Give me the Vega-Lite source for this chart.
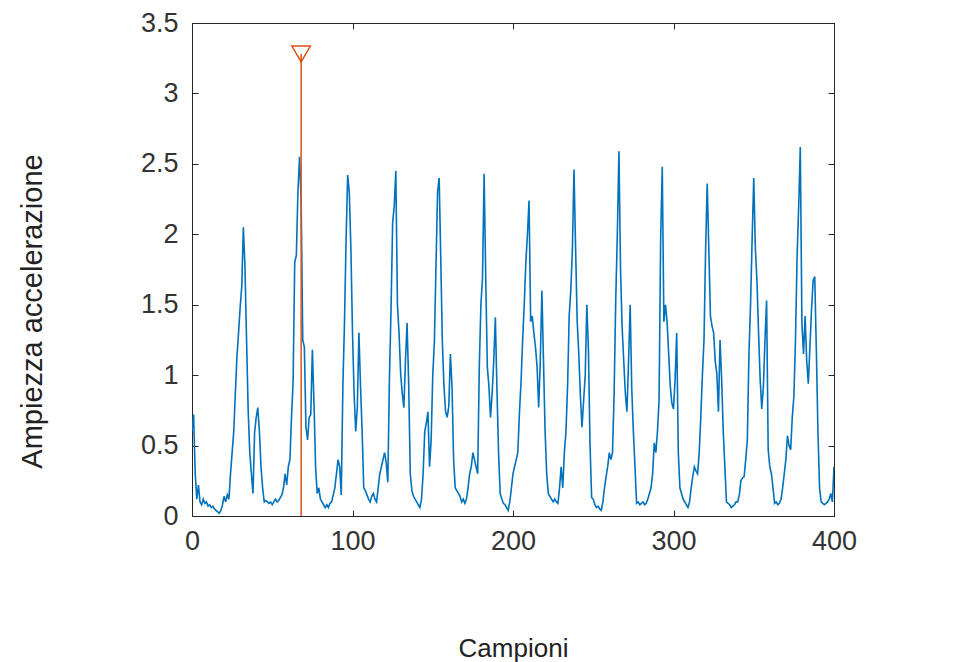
{
  "$schema": "https://vega.github.io/schema/vega-lite/v6.json",
  "autosize": {"type": "none"},
  "padding": {"left": 192, "top": 23, "right": 128, "bottom": 146},
  "width": 642,
  "height": 493,
  "background": "white",
  "view": {"stroke": "#262626", "strokeWidth": 1},
  "config": {
    "font": "Liberation Sans",
    "axis": {"grid": false, "domainColor": "#262626", "tickColor": "#262626", "labelColor": "#333333", "titleColor": "#222222", "titleFontWeight": "normal", "labelFont": "Liberation Sans", "titleFont": "Liberation Sans"}
  },
  "datasets": {
    "signal": [
      {"s":0,"v":0.6},{"s":1,"v":0.72},{"s":2,"v":0.3},{"s":3,"v":0.12},{"s":4,"v":0.22},{"s":5,"v":0.1},{"s":6,"v":0.08},{"s":7,"v":0.12},{"s":8,"v":0.09},{"s":9,"v":0.1},
      {"s":10,"v":0.07},{"s":11,"v":0.08},{"s":12,"v":0.06},{"s":13,"v":0.07},{"s":14,"v":0.05},{"s":15,"v":0.04},{"s":16,"v":0.03},{"s":17,"v":0.02},{"s":18,"v":0.04},{"s":19,"v":0.08},
      {"s":20,"v":0.14},{"s":21,"v":0.1},{"s":22,"v":0.15},{"s":23,"v":0.12},{"s":24,"v":0.3},{"s":25,"v":0.45},{"s":26,"v":0.6},{"s":27,"v":0.87},{"s":28,"v":1.13},{"s":29,"v":1.3},
      {"s":30,"v":1.48},{"s":31,"v":1.63},{"s":32,"v":2.05},{"s":33,"v":1.77},{"s":34,"v":1.25},{"s":35,"v":0.75},{"s":36,"v":0.45},{"s":37,"v":0.3},{"s":38,"v":0.16},{"s":39,"v":0.59},
      {"s":40,"v":0.7},{"s":41,"v":0.77},{"s":42,"v":0.6},{"s":43,"v":0.35},{"s":44,"v":0.2},{"s":45,"v":0.1},{"s":46,"v":0.11},{"s":47,"v":0.1},{"s":48,"v":0.09},{"s":49,"v":0.1},
      {"s":50,"v":0.08},{"s":51,"v":0.1},{"s":52,"v":0.12},{"s":53,"v":0.1},{"s":54,"v":0.11},{"s":55,"v":0.13},{"s":56,"v":0.15},{"s":57,"v":0.2},{"s":58,"v":0.3},{"s":59,"v":0.22},
      {"s":60,"v":0.35},{"s":61,"v":0.4},{"s":62,"v":0.7},{"s":63,"v":0.96},{"s":64,"v":1.8},{"s":65,"v":1.85},{"s":66,"v":2.3},{"s":67,"v":2.55},{"s":68,"v":2.25},{"s":69,"v":1.25},
      {"s":70,"v":1.2},{"s":71,"v":0.63},{"s":72,"v":0.54},{"s":73,"v":0.7},{"s":74,"v":0.72},{"s":75,"v":1.18},{"s":76,"v":0.8},{"s":77,"v":0.35},{"s":78,"v":0.16},{"s":79,"v":0.2},
      {"s":80,"v":0.12},{"s":81,"v":0.1},{"s":82,"v":0.08},{"s":83,"v":0.06},{"s":84,"v":0.08},{"s":85,"v":0.06},{"s":86,"v":0.09},{"s":87,"v":0.1},{"s":88,"v":0.15},{"s":89,"v":0.2},
      {"s":90,"v":0.3},{"s":91,"v":0.4},{"s":92,"v":0.35},{"s":93,"v":0.15},{"s":94,"v":0.92},{"s":95,"v":1.37},{"s":96,"v":1.96},{"s":97,"v":2.42},{"s":98,"v":2.3},{"s":99,"v":1.9},
      {"s":100,"v":1.3},{"s":101,"v":0.87},{"s":102,"v":0.6},{"s":103,"v":0.77},{"s":104,"v":1.3},{"s":105,"v":0.92},{"s":106,"v":0.6},{"s":107,"v":0.2},{"s":108,"v":0.18},{"s":109,"v":0.15},
      {"s":110,"v":0.12},{"s":111,"v":0.1},{"s":112,"v":0.14},{"s":113,"v":0.16},{"s":114,"v":0.12},{"s":115,"v":0.1},{"s":116,"v":0.2},{"s":117,"v":0.3},{"s":118,"v":0.35},{"s":119,"v":0.4},
      {"s":120,"v":0.45},{"s":121,"v":0.38},{"s":122,"v":0.24},{"s":123,"v":0.97},{"s":124,"v":1.46},{"s":125,"v":2.08},{"s":126,"v":2.2},{"s":127,"v":2.45},{"s":128,"v":1.5},{"s":129,"v":1.3},
      {"s":130,"v":1.01},{"s":131,"v":0.87},{"s":132,"v":0.77},{"s":133,"v":1.1},{"s":134,"v":1.37},{"s":135,"v":0.94},{"s":136,"v":0.3},{"s":137,"v":0.18},{"s":138,"v":0.14},{"s":139,"v":0.12},
      {"s":140,"v":0.1},{"s":141,"v":0.08},{"s":142,"v":0.06},{"s":143,"v":0.12},{"s":144,"v":0.3},{"s":145,"v":0.6},{"s":146,"v":0.66},{"s":147,"v":0.74},{"s":148,"v":0.35},{"s":149,"v":0.54},
      {"s":150,"v":1.0},{"s":151,"v":1.23},{"s":152,"v":1.76},{"s":153,"v":2.3},{"s":154,"v":2.4},{"s":155,"v":1.82},{"s":156,"v":1.23},{"s":157,"v":0.92},{"s":158,"v":0.74},{"s":159,"v":0.7},
      {"s":160,"v":0.78},{"s":161,"v":1.15},{"s":162,"v":0.92},{"s":163,"v":0.4},{"s":164,"v":0.2},{"s":165,"v":0.18},{"s":166,"v":0.16},{"s":167,"v":0.14},{"s":168,"v":0.1},{"s":169,"v":0.12},
      {"s":170,"v":0.09},{"s":171,"v":0.12},{"s":172,"v":0.2},{"s":173,"v":0.3},{"s":174,"v":0.35},{"s":175,"v":0.45},{"s":176,"v":0.4},{"s":177,"v":0.35},{"s":178,"v":0.3},{"s":179,"v":1.06},
      {"s":180,"v":1.5},{"s":181,"v":1.69},{"s":182,"v":2.43},{"s":183,"v":1.7},{"s":184,"v":1.06},{"s":185,"v":0.92},{"s":186,"v":0.7},{"s":187,"v":0.87},{"s":188,"v":1.1},{"s":189,"v":1.41},
      {"s":190,"v":0.9},{"s":191,"v":0.45},{"s":192,"v":0.16},{"s":193,"v":0.12},{"s":194,"v":0.09},{"s":195,"v":0.08},{"s":196,"v":0.06},{"s":197,"v":0.04},{"s":198,"v":0.1},{"s":199,"v":0.2},
      {"s":200,"v":0.3},{"s":201,"v":0.35},{"s":202,"v":0.4},{"s":203,"v":0.45},{"s":204,"v":0.73},{"s":205,"v":0.95},{"s":206,"v":1.25},{"s":207,"v":1.5},{"s":208,"v":1.8},{"s":209,"v":2.0},
      {"s":210,"v":2.24},{"s":211,"v":1.38},{"s":212,"v":1.42},{"s":213,"v":1.3},{"s":214,"v":1.2},{"s":215,"v":1.06},{"s":216,"v":0.77},{"s":217,"v":1.1},{"s":218,"v":1.6},{"s":219,"v":1.1},
      {"s":220,"v":0.6},{"s":221,"v":0.3},{"s":222,"v":0.16},{"s":223,"v":0.14},{"s":224,"v":0.12},{"s":225,"v":0.1},{"s":226,"v":0.12},{"s":227,"v":0.1},{"s":228,"v":0.09},{"s":229,"v":0.2},
      {"s":230,"v":0.35},{"s":231,"v":0.2},{"s":232,"v":0.45},{"s":233,"v":0.6},{"s":234,"v":0.92},{"s":235,"v":1.42},{"s":236,"v":1.6},{"s":237,"v":1.89},{"s":238,"v":2.46},{"s":239,"v":1.9},
      {"s":240,"v":1.38},{"s":241,"v":1.15},{"s":242,"v":0.85},{"s":243,"v":0.63},{"s":244,"v":0.82},{"s":245,"v":1.0},{"s":246,"v":1.5},{"s":247,"v":1.18},{"s":248,"v":0.5},{"s":249,"v":0.13},
      {"s":250,"v":0.12},{"s":251,"v":0.08},{"s":252,"v":0.06},{"s":253,"v":0.07},{"s":254,"v":0.05},{"s":255,"v":0.04},{"s":256,"v":0.1},{"s":257,"v":0.2},{"s":258,"v":0.28},{"s":259,"v":0.35},
      {"s":260,"v":0.45},{"s":261,"v":0.4},{"s":262,"v":0.45},{"s":263,"v":0.87},{"s":264,"v":1.53},{"s":265,"v":2.0},{"s":266,"v":2.59},{"s":267,"v":1.75},{"s":268,"v":1.34},{"s":269,"v":1.1},
      {"s":270,"v":0.87},{"s":271,"v":0.74},{"s":272,"v":1.1},{"s":273,"v":1.5},{"s":274,"v":0.9},{"s":275,"v":0.6},{"s":276,"v":0.35},{"s":277,"v":0.09},{"s":278,"v":0.1},{"s":279,"v":0.08},
      {"s":280,"v":0.09},{"s":281,"v":0.1},{"s":282,"v":0.08},{"s":283,"v":0.09},{"s":284,"v":0.12},{"s":285,"v":0.16},{"s":286,"v":0.2},{"s":287,"v":0.3},{"s":288,"v":0.52},{"s":289,"v":0.45},
      {"s":290,"v":0.6},{"s":291,"v":0.82},{"s":292,"v":1.97},{"s":293,"v":2.48},{"s":294,"v":1.38},{"s":295,"v":1.5},{"s":296,"v":1.38},{"s":297,"v":1.15},{"s":298,"v":0.92},{"s":299,"v":0.8},
      {"s":300,"v":0.76},{"s":301,"v":0.97},{"s":302,"v":1.3},{"s":303,"v":0.45},{"s":304,"v":0.2},{"s":305,"v":0.16},{"s":306,"v":0.12},{"s":307,"v":0.1},{"s":308,"v":0.08},{"s":309,"v":0.06},
      {"s":310,"v":0.1},{"s":311,"v":0.2},{"s":312,"v":0.28},{"s":313,"v":0.35},{"s":314,"v":0.32},{"s":315,"v":0.3},{"s":316,"v":0.45},{"s":317,"v":0.7},{"s":318,"v":1.0},{"s":319,"v":1.25},
      {"s":320,"v":1.89},{"s":321,"v":2.36},{"s":322,"v":1.9},{"s":323,"v":1.42},{"s":324,"v":1.35},{"s":325,"v":1.3},{"s":326,"v":1.1},{"s":327,"v":1.01},{"s":328,"v":0.74},{"s":329,"v":1.25},
      {"s":330,"v":0.97},{"s":331,"v":0.6},{"s":332,"v":0.35},{"s":333,"v":0.1},{"s":334,"v":0.09},{"s":335,"v":0.08},{"s":336,"v":0.06},{"s":337,"v":0.07},{"s":338,"v":0.08},{"s":339,"v":0.1},
      {"s":340,"v":0.1},{"s":341,"v":0.15},{"s":342,"v":0.25},{"s":343,"v":0.27},{"s":344,"v":0.28},{"s":345,"v":0.4},{"s":346,"v":0.54},{"s":347,"v":1.15},{"s":348,"v":1.5},{"s":349,"v":1.97},
      {"s":350,"v":2.4},{"s":351,"v":1.9},{"s":352,"v":1.67},{"s":353,"v":1.3},{"s":354,"v":0.97},{"s":355,"v":0.76},{"s":356,"v":0.92},{"s":357,"v":1.25},{"s":358,"v":1.53},{"s":359,"v":0.47},
      {"s":360,"v":0.35},{"s":361,"v":0.3},{"s":362,"v":0.2},{"s":363,"v":0.09},{"s":364,"v":0.1},{"s":365,"v":0.08},{"s":366,"v":0.09},{"s":367,"v":0.12},{"s":368,"v":0.2},{"s":369,"v":0.3},
      {"s":370,"v":0.4},{"s":371,"v":0.57},{"s":372,"v":0.5},{"s":373,"v":0.47},{"s":374,"v":0.7},{"s":375,"v":0.85},{"s":376,"v":1.25},{"s":377,"v":1.84},{"s":378,"v":2.2},{"s":379,"v":2.62},
      {"s":380,"v":1.37},{"s":381,"v":1.15},{"s":382,"v":1.42},{"s":383,"v":1.1},{"s":384,"v":0.94},{"s":385,"v":1.2},{"s":386,"v":1.47},{"s":387,"v":1.67},{"s":388,"v":1.7},{"s":389,"v":1.18},
      {"s":390,"v":0.6},{"s":391,"v":0.2},{"s":392,"v":0.1},{"s":393,"v":0.09},{"s":394,"v":0.08},{"s":395,"v":0.09},{"s":396,"v":0.1},{"s":397,"v":0.12},{"s":398,"v":0.16},{"s":399,"v":0.1},
      {"s":400,"v":0.35}
    ],
    "stem": [{"s":68,"v":3.28}]
  },
  "resolve": {"scale": {"x": "shared", "y": "shared"}, "axis": {"x": "independent", "y": "independent"}},
  "layer": [
    {
      "data": {"name": "signal"},
      "mark": {"type": "line", "color": "#0072BD", "strokeWidth": 1.6, "clip": true},
      "encoding": {
        "x": {"field": "s", "type": "quantitative", "scale": {"domain": [0, 400], "nice": false, "zero": false},
          "axis": {"orient": "bottom", "values": [0, 100, 200, 300, 400], "format": "d", "tickSize": -6, "labelPadding": 18, "labelFlush": false, "labelFontSize": 27, "labelBaseline": "top",
            "title": "Campioni", "titleFontSize": 26, "titleX": 321, "titleY": 132, "titleBaseline": "middle", "titleAlign": "center"}},
        "y": {"field": "v", "type": "quantitative", "scale": {"domain": [0, 3.5], "nice": false, "zero": false},
          "axis": {"orient": "left", "values": [0, 0.5, 1, 1.5, 2, 2.5, 3, 3.5], "format": "~g", "tickSize": -6, "labelPadding": 20, "labelFlush": false, "labelFontSize": 27,
            "title": "Ampiezza accelerazione", "titleFontSize": 29, "titleX": -160, "titleY": 288, "titleBaseline": "middle", "titleAlign": "center", "titleAngle": -90}}
      }
    },
    {
      "data": {"name": "stem"},
      "mark": {"type": "rule", "color": "#D95319", "strokeWidth": 1.5},
      "encoding": {
        "x": {"field": "s", "type": "quantitative", "axis": null},
        "y": {"field": "v", "type": "quantitative", "axis": null},
        "y2": {"datum": 0}
      }
    },
    {
      "data": {"name": "stem"},
      "mark": {"type": "point", "shape": "triangle-down", "size": 340, "filled": false, "color": "#D95319", "strokeWidth": 1.5, "opacity": 1},
      "encoding": {
        "x": {"field": "s", "type": "quantitative", "axis": null},
        "y": {"field": "v", "type": "quantitative", "axis": null}
      }
    },
    {
      "data": {"name": "stem"},
      "mark": {"type": "point", "opacity": 0},
      "encoding": {
        "x": {"field": "s", "type": "quantitative", "axis": {"orient": "top", "values": [0, 100, 200, 300, 400], "tickSize": -6, "labels": false, "title": null}},
        "y": {"field": "v", "type": "quantitative", "axis": {"orient": "right", "values": [0, 0.5, 1, 1.5, 2, 2.5, 3, 3.5], "tickSize": -6, "labels": false, "title": null}}
      }
    }
  ]
}
